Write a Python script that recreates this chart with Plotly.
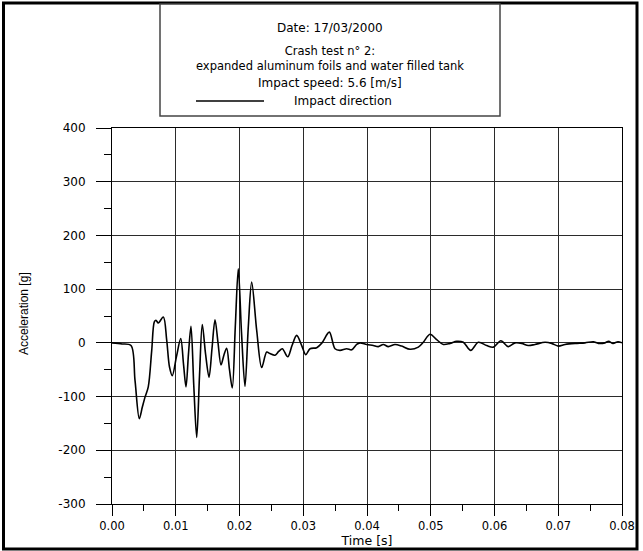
import plotly.graph_objects as go

# ---------------- data ----------------
time_s = [0.0, 0.00157, 0.00298, 0.00361, 0.00428, 0.00475, 0.00518, 0.00569, 0.00623, 0.00664,
          0.00690, 0.00726, 0.00805, 0.00858, 0.00902, 0.00946, 0.01012, 0.01078, 0.01122, 0.01161,
          0.01200, 0.01239, 0.01283, 0.01329, 0.01373, 0.01416, 0.01467, 0.01522, 0.01569, 0.01616,
          0.01663, 0.01710, 0.01757, 0.01799, 0.01843, 0.01887, 0.01934, 0.01981, 0.02031, 0.02086,
          0.02138, 0.02191, 0.02270, 0.02348, 0.02427, 0.02478, 0.02557, 0.02615, 0.02671, 0.02756,
          0.02824, 0.02897, 0.02976, 0.03038, 0.03106, 0.03211, 0.03294, 0.03409, 0.03498, 0.03576,
          0.03682, 0.03760, 0.03838, 0.03890, 0.03995, 0.04099, 0.04177, 0.04256, 0.04334, 0.04439,
          0.04544, 0.04675, 0.04805, 0.04883, 0.04988, 0.05093, 0.05197, 0.05302, 0.05407, 0.05511,
          0.05627, 0.05746, 0.05878, 0.05981, 0.06100, 0.06216, 0.06322, 0.06427, 0.06530, 0.06635,
          0.06792, 0.06897, 0.07001, 0.07106, 0.07263, 0.07420, 0.07550, 0.07628, 0.07733, 0.07790,
          0.07859, 0.07937, 0.08000]

accel_g = [0, -2, -5, -70, -141, -120, -101, -82, -14, 39,
           42, 37, 48, 5, -45, -61, -25, 8, -40, -82,
           -20, 31, -80, -176, -60, 34, -20, -64, -10, 43,
           0, -41, -22, -10, -50, -84, 30, 138, 20, -81,
           30, 113, 23, -46, -17, -20, -23, -16, -11, -26,
           -5, 14, -5, -22, -11, -9, 0, 20, -11, -14,
           -11, -13, -3, 0, -3, -5, -7, -3, -7, -3,
           -6, -12, -8, 1, 16, 6, -3, -1, 3, 1,
           -14, 1, -5, -8, 4, -7, 0, -1, -5, -3,
           1, -1, -6, -3, -1, 0, 2, -1, 0, 3,
           -1, 2, 0]

x_tick_vals = [0.00, 0.01, 0.02, 0.03, 0.04, 0.05, 0.06, 0.07, 0.08]
x_tick_text = ["0.00", "0.01", "0.02", "0.03", "0.04", "0.05", "0.06", "0.07", "0.08"]
y_tick_vals = [-300, -200, -100, 0, 100, 200, 300, 400]
y_tick_text = ["-300", "-200", "-100", "0", "100", "200", "300", "400"]

series_name = "Impact direction"
info_date = "Date: 17/03/2000"
info_test = "Crash test n° 2:<br>expanded aluminum foils and water filled tank"
info_speed = "Impact speed: 5.6 [m/s]"
x_title = "Time [s]"
y_title = "Acceleration [g]"

# ---------------- layout geometry ----------------
W, H = 643, 551
L, R, T, B = 112, 21, 128, 47
PW, PH = W - L - R, H - T - B


def px(xp):
    return (xp - L) / PW


def py(yp):
    return (H - B - yp) / PH


FONT = "DejaVu Sans, Arial, sans-serif"
PLAIN = "Liberation Sans, Arial, sans-serif"

fig = go.Figure()
fig.add_trace(go.Scatter(
    x=time_s, y=accel_g, mode="lines", name=series_name, showlegend=False,
    line=dict(color="black", width=1.6, shape="spline", smoothing=0.9),
    hoverinfo="skip"))

grid_c = "#2b2b2b"

fig.update_layout(
    width=W, height=H,
    margin=dict(l=L, r=R, t=T, b=B, autoexpand=False),
    paper_bgcolor="white", plot_bgcolor="white",
    font=dict(family=FONT, size=12, color="black"),
    showlegend=False,
    xaxis=dict(
        range=[0, 0.08], tickmode="array", tickvals=x_tick_vals, ticktext=x_tick_text,
        ticks="outside", ticklen=11, tickwidth=1, tickcolor="black",
        showgrid=True, gridcolor=grid_c, gridwidth=1,
        showline=True, linecolor="black", linewidth=1, mirror=True,
        zeroline=False, tickfont=dict(size=11.5),
        minor=dict(tickmode="linear", tick0=0, dtick=0.005, ticks="outside", ticklen=6,
                   tickcolor="black", showgrid=False),
        title=dict(text=x_title, font=dict(size=12.5), standoff=1),
    ),
    yaxis=dict(
        range=[-300, 400], tickmode="array", tickvals=y_tick_vals, ticktext=y_tick_text,
        ticks="outside", ticklen=15, tickwidth=1, tickcolor="black",
        ticklabelstandoff=8,
        showgrid=True, gridcolor=grid_c, gridwidth=1,
        showline=True, linecolor="black", linewidth=1, mirror=True,
        zeroline=False, tickfont=dict(size=12),
        minor=dict(tickmode="linear", tick0=0, dtick=50, ticks="outside", ticklen=7,
                   tickcolor="black", showgrid=False),
    ),
)

# y-axis title (rotated)
fig.add_annotation(xref="paper", yref="paper", x=px(24), y=py(314), text=y_title,
                   textangle=-90, showarrow=False, font=dict(size=12, family=PLAIN),
                   xanchor="center", yanchor="middle")

# outer frame
fig.add_shape(type="rect", xref="paper", yref="paper",
              x0=px(3.5), x1=px(637), y0=py(549), y1=py(3),
              line=dict(color="black", width=3), fillcolor="rgba(0,0,0,0)", layer="above")

# info / legend box
fig.add_shape(type="rect", xref="paper", yref="paper",
              x0=px(160), x1=px(500), y0=py(116), y1=py(4),
              line=dict(color="#444444", width=1.5), fillcolor="white", layer="above")

cx = px(330)
fig.add_annotation(xref="paper", yref="paper", x=cx, y=py(28), text=info_date,
                   showarrow=False, font=dict(size=12), xanchor="center", yanchor="middle")
fig.add_annotation(xref="paper", yref="paper", x=cx, y=py(58), text=info_test,
                   showarrow=False, font=dict(size=11.5), xanchor="center", yanchor="middle")
fig.add_annotation(xref="paper", yref="paper", x=cx, y=py(83), text=info_speed,
                   showarrow=False, font=dict(size=12), xanchor="center", yanchor="middle")

# legend sample line + label
fig.add_shape(type="line", xref="paper", yref="paper",
              x0=px(196), x1=px(264), y0=py(101), y1=py(101),
              line=dict(color="black", width=1.6), layer="above")
fig.add_annotation(xref="paper", yref="paper", x=px(292), y=py(101), text=series_name,
                   showarrow=False, font=dict(size=12), xanchor="left", yanchor="middle")

fig.write_html("out.html", config={"displayModeBar": False},
               post_script="document.body.style.margin='0';document.body.style.padding='0';")
